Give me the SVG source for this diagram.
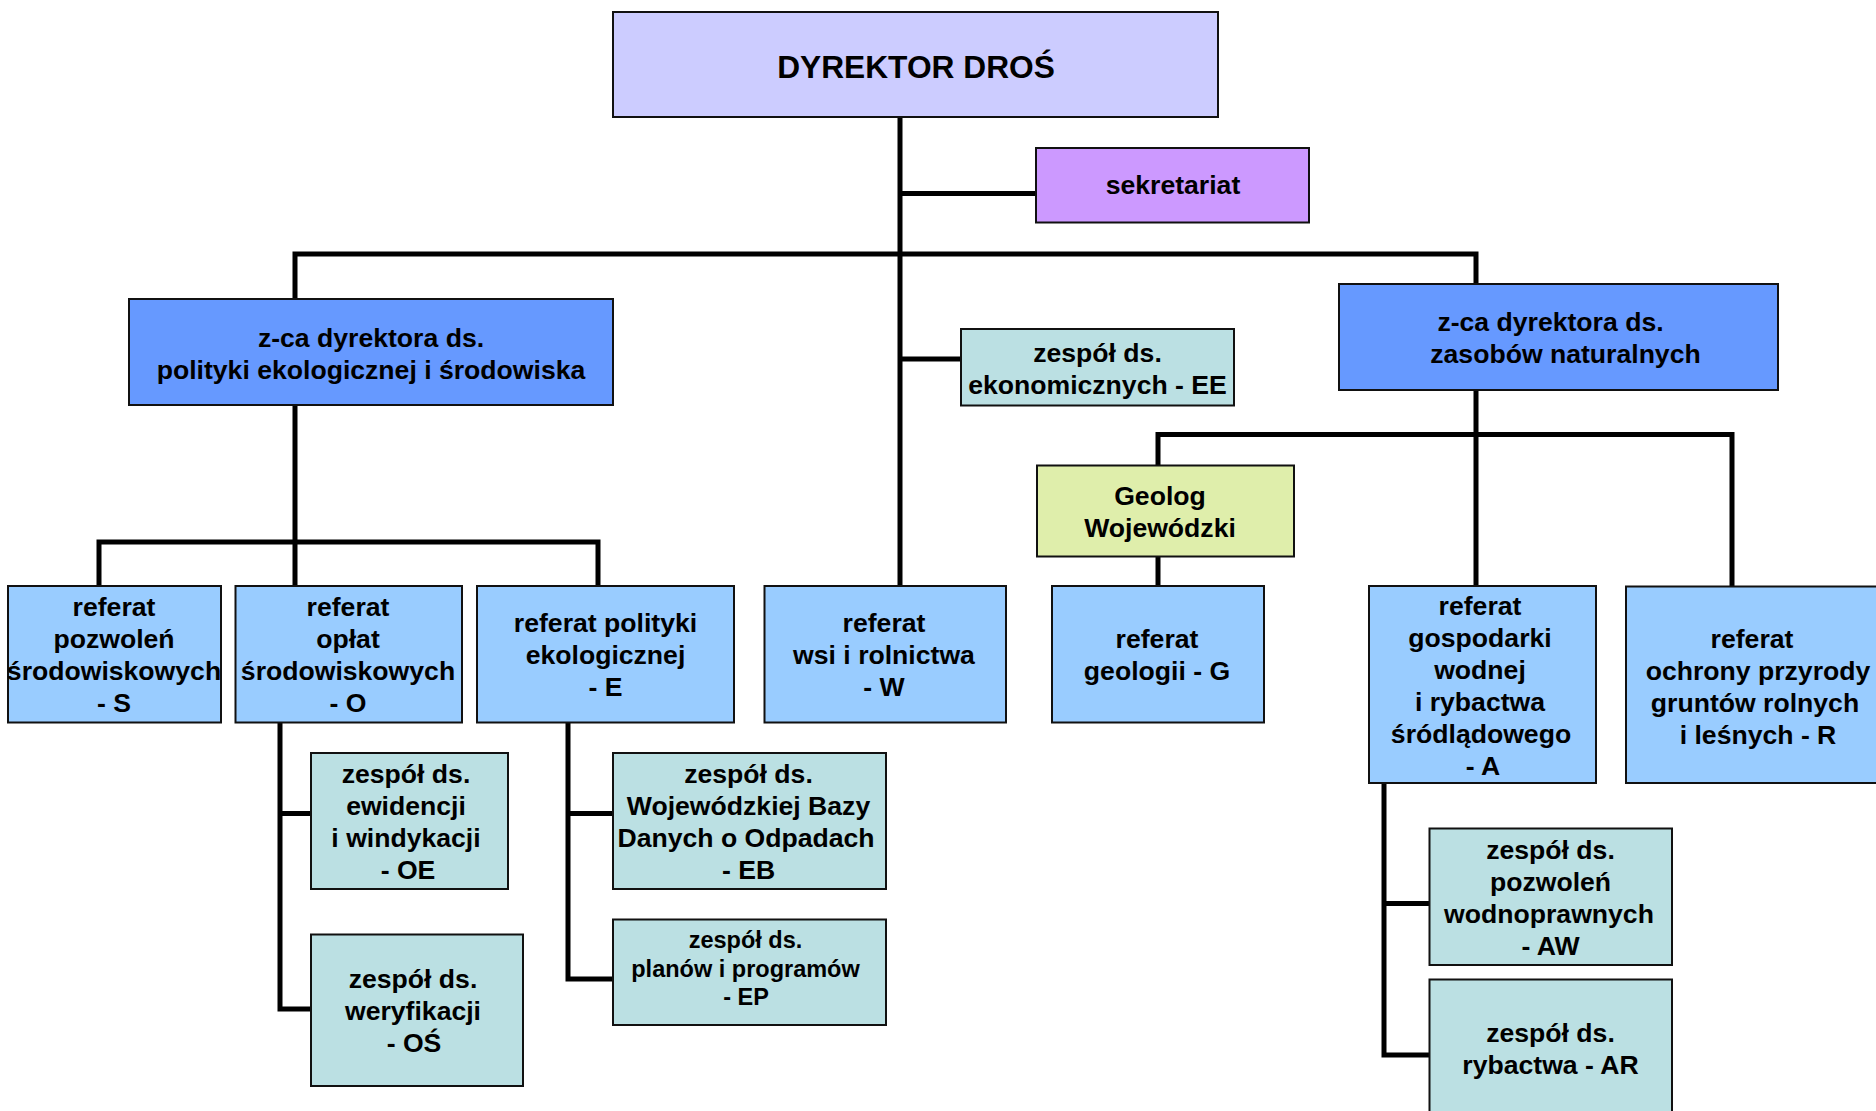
<svg xmlns="http://www.w3.org/2000/svg" width="1876" height="1111" viewBox="0 0 1876 1111">
<style>
  .box { stroke: #111; stroke-width: 2; }
  .dyr { fill: #CCCCFF; }
  .sek { fill: #CC99FF; }
  .zca { fill: #6699FF; }
  .ref { fill: #99CCFF; }
  .zes { fill: #BBE0E3; }
  .geo { fill: #DFEEAB; }
  text { font-family: "Liberation Sans", Arial, sans-serif; font-weight: bold; font-size: 26.6px; fill: #000; text-anchor: middle; }
  .big { font-size: 31.7px; }
  .small { font-size: 23.5px; }
  .conn { fill: none; stroke: #000; stroke-width: 5; stroke-linejoin: miter; stroke-linecap: butt; }
</style>
<rect x="0" y="0" width="1876" height="1111" fill="#FFFFFF"/>
<g id="connectors">
  <path class="conn" d="M900,117 V586"/>
  <path class="conn" d="M900,193.5 H1036"/>
  <path class="conn" d="M295,299 V254 H1476 V284"/>
  <path class="conn" d="M900,359 H961"/>
  <path class="conn" d="M295,405 V586"/>
  <path class="conn" d="M99,586 V542 H598 V586"/>
  <path class="conn" d="M1476,390 V586"/>
  <path class="conn" d="M1158,465.5 V434.5 H1732 V586.5"/>
  <path class="conn" d="M1158,556.5 V586"/>
  <path class="conn" d="M280,722.5 V1009 H311"/>
  <path class="conn" d="M280,813.5 H311"/>
  <path class="conn" d="M568,722.5 V979 H613"/>
  <path class="conn" d="M568,813.5 H613"/>
  <path class="conn" d="M1384,783 V1055 H1429.5"/>
  <path class="conn" d="M1384,903.5 H1429.5"/>
</g>
<g id="dyrektor">
  <rect class="box dyr" x="613" y="12" width="605" height="105"/>
  <text class="big" x="916" y="77.5">DYREKTOR DROŚ</text>
</g>
<g id="sekretariat">
  <rect class="box sek" x="1036" y="148" width="273" height="74.5"/>
  <text x="1173" y="193.5">sekretariat</text>
</g>
<g id="zca-polityki">
  <rect class="box zca" x="129" y="299" width="484" height="106"/>
  <text x="371" y="346.5">z-ca dyrektora ds.</text>
  <text x="371" y="378.5">polityki ekologicznej i środowiska</text>
</g>
<g id="zca-zasobow">
  <rect class="box zca" x="1339" y="284" width="439" height="106"/>
  <text x="1550.5" y="331">z-ca dyrektora ds.</text>
  <text x="1565.5" y="363">zasobów naturalnych</text>
</g>
<g id="zespol-EE">
  <rect class="box zes" x="961" y="329" width="273" height="76.5"/>
  <text x="1097.5" y="361.5">zespół ds.</text>
  <text x="1097.5" y="393.5">ekonomicznych - EE</text>
</g>
<g id="referat-S">
  <rect class="box ref" x="8" y="586" width="213" height="136.5"/>
  <text x="114" y="616">referat</text>
  <text x="114" y="648">pozwoleń</text>
  <text x="114" y="680">środowiskowych</text>
  <text x="114" y="712">- S</text>
</g>
<g id="referat-O">
  <rect class="box ref" x="235.5" y="586" width="226.5" height="136.5"/>
  <text x="348" y="616">referat</text>
  <text x="348" y="648">opłat</text>
  <text x="348" y="680">środowiskowych</text>
  <text x="348" y="712">- O</text>
</g>
<g id="referat-E">
  <rect class="box ref" x="477" y="586" width="257" height="136.5"/>
  <text x="605.5" y="632">referat polityki</text>
  <text x="605.5" y="664">ekologicznej</text>
  <text x="605.5" y="696">- E</text>
</g>
<g id="referat-W">
  <rect class="box ref" x="764.5" y="586" width="241.5" height="136.5"/>
  <text x="884" y="632">referat</text>
  <text x="884" y="664">wsi i rolnictwa</text>
  <text x="884" y="696">- W</text>
</g>
<g id="geolog">
  <rect class="box geo" x="1037" y="465.5" width="257" height="91"/>
  <text x="1160" y="505">Geolog</text>
  <text x="1160" y="537">Wojewódzki</text>
</g>
<g id="referat-G">
  <rect class="box ref" x="1052" y="586" width="212" height="136.5"/>
  <text x="1157" y="648">referat</text>
  <text x="1157" y="680">geologii - G</text>
</g>
<g id="referat-A">
  <rect class="box ref" x="1369" y="586" width="227" height="197"/>
  <text x="1480" y="615">referat</text>
  <text x="1480" y="647">gospodarki</text>
  <text x="1480" y="679">wodnej</text>
  <text x="1480" y="711">i rybactwa</text>
  <text x="1481" y="743">śródlądowego</text>
  <text x="1483" y="775">- A</text>
</g>
<g id="referat-R">
  <rect class="box ref" x="1626" y="586.5" width="270" height="196.5"/>
  <text x="1752" y="648">referat</text>
  <text x="1758" y="680">ochrony przyrody</text>
  <text x="1755" y="712">gruntów rolnych</text>
  <text x="1758" y="744">i leśnych - R</text>
</g>
<g id="zespol-OE">
  <rect class="box zes" x="311" y="753" width="197" height="136"/>
  <text x="406" y="783">zespół ds.</text>
  <text x="406" y="815">ewidencji</text>
  <text x="406" y="847">i windykacji</text>
  <text x="408" y="879">- OE</text>
</g>
<g id="zespol-OS">
  <rect class="box zes" x="311" y="934.5" width="212" height="151.5"/>
  <text x="413" y="988">zespół ds.</text>
  <text x="413" y="1020">weryfikacji</text>
  <text x="414" y="1052">- OŚ</text>
</g>
<g id="zespol-EB">
  <rect class="box zes" x="613" y="753" width="273" height="136"/>
  <text x="748.5" y="783">zespół ds.</text>
  <text x="748.5" y="815">Wojewódzkiej Bazy</text>
  <text x="746" y="847">Danych o Odpadach</text>
  <text x="748.5" y="879">- EB</text>
</g>
<g id="zespol-EP">
  <rect class="box zes" x="613" y="919.5" width="273" height="105.5"/>
  <text class="small" x="745.5" y="948">zespół ds.</text>
  <text class="small" x="745.5" y="976.5">planów i programów</text>
  <text class="small" x="746" y="1004.5">- EP</text>
</g>
<g id="zespol-AW">
  <rect class="box zes" x="1429.5" y="828.5" width="242.5" height="136.5"/>
  <text x="1550.5" y="859">zespół ds.</text>
  <text x="1550.5" y="891">pozwoleń</text>
  <text x="1549" y="923">wodnoprawnych</text>
  <text x="1550.5" y="955">- AW</text>
</g>
<g id="zespol-AR">
  <rect class="box zes" x="1429.5" y="979.5" width="242.5" height="140"/>
  <text x="1550.5" y="1041.5">zespół ds.</text>
  <text x="1550.5" y="1073.5">rybactwa - AR</text>
</g>
</svg>
